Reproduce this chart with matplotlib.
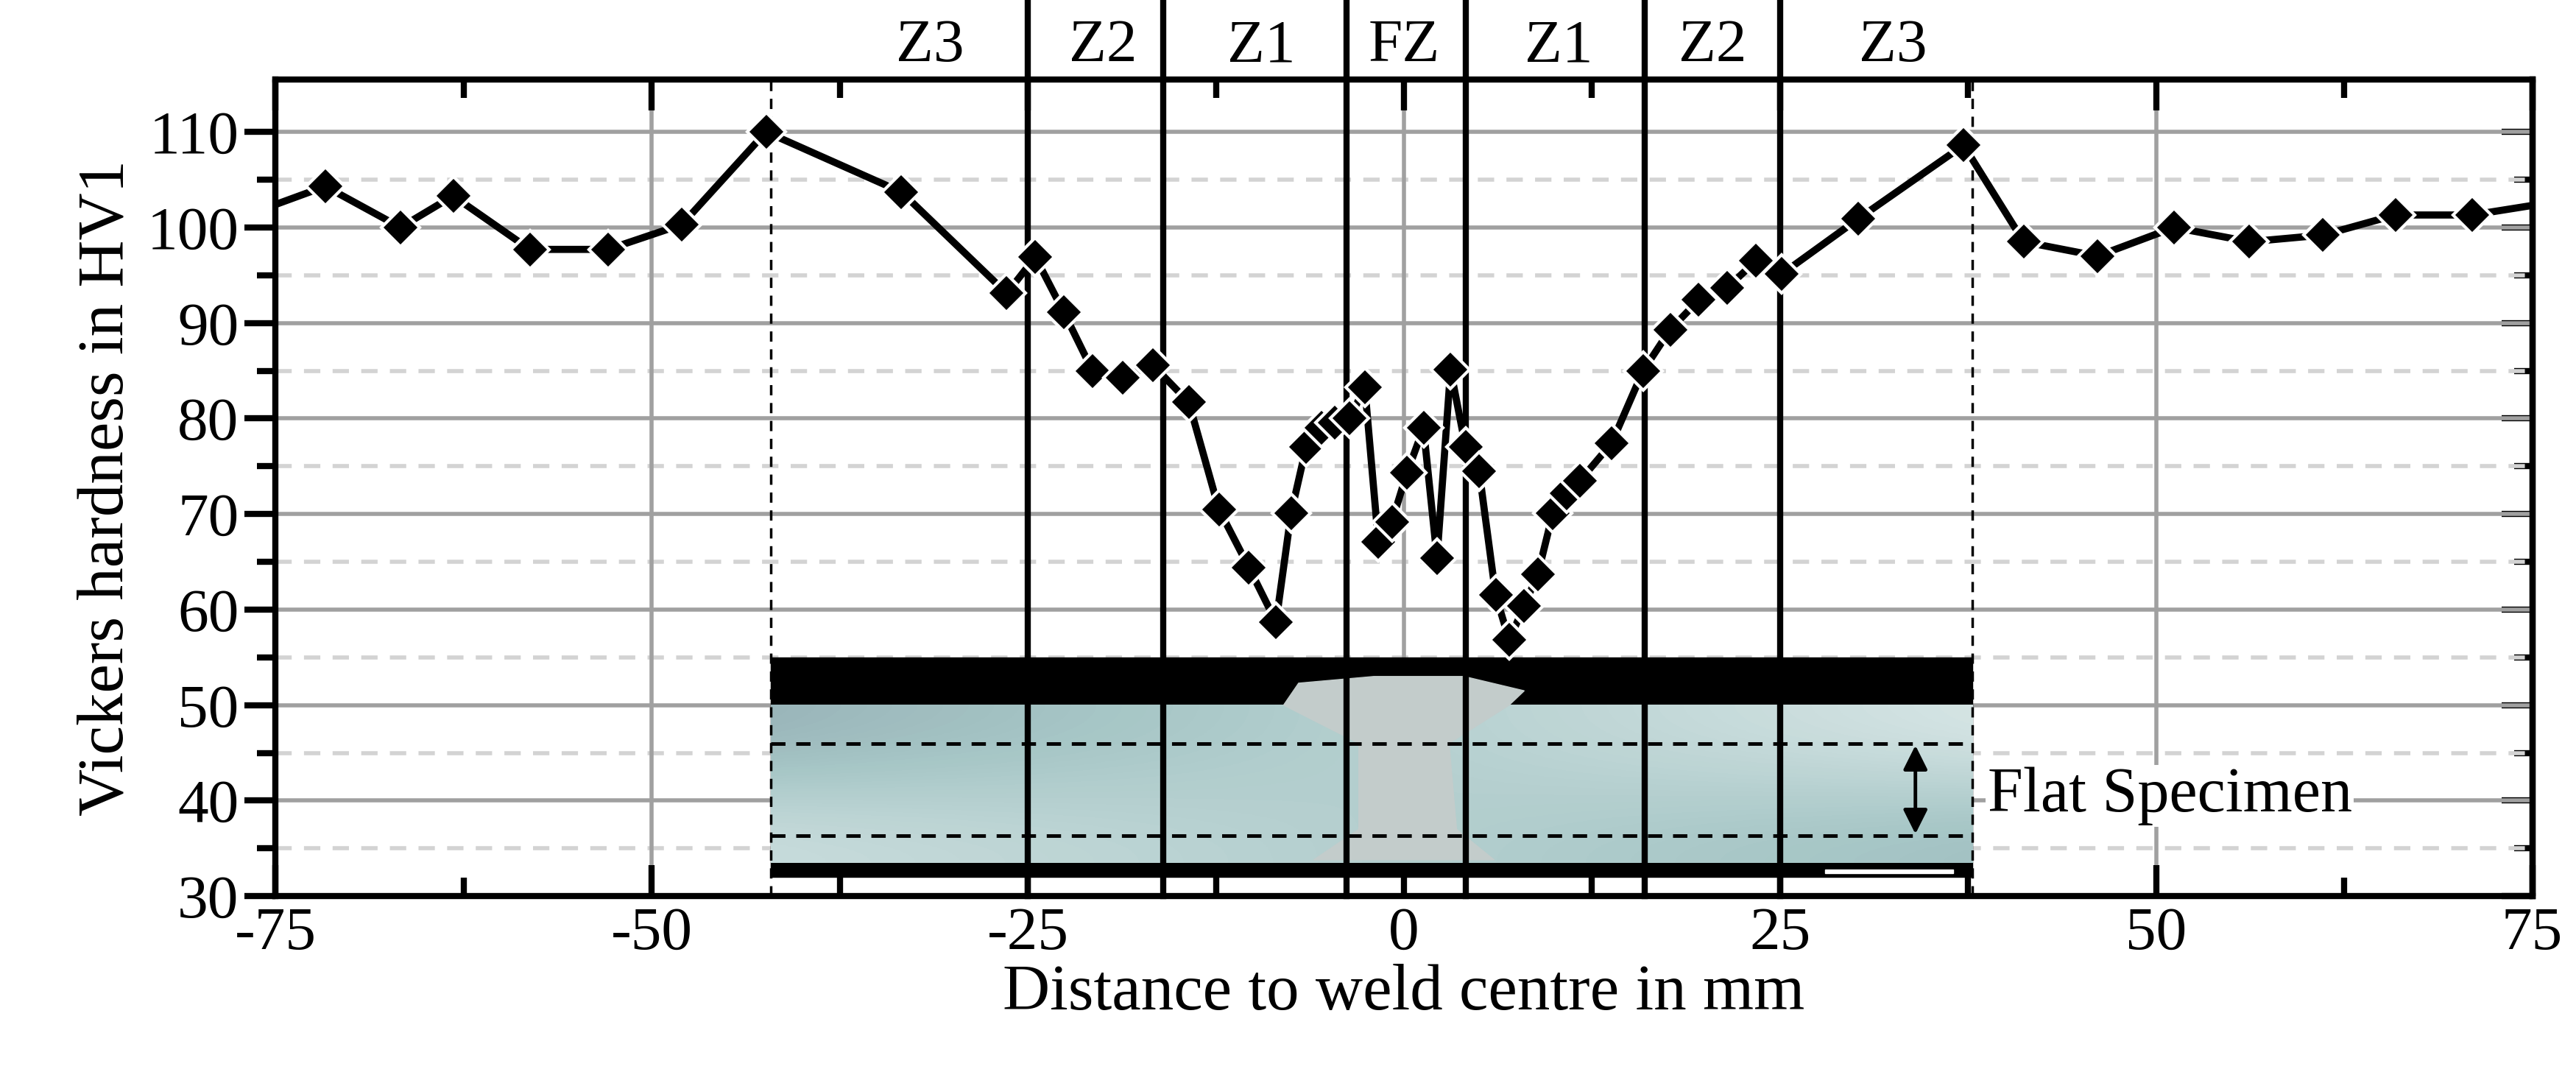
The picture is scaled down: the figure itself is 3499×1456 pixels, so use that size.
import numpy as np
import matplotlib.pyplot as plt
from matplotlib.patches import Rectangle, Polygon

plt.rcParams['font.family'] = ['Liberation Serif', 'DejaVu Serif']

# hardness profile (distance in mm, hardness in HV1); first and last entries are the line ends at the frame
distance = [-75, -71.7, -66.7, -63.2, -58.1, -52.9, -48.0, -42.4, -33.4, -26.4, -24.5, -22.6, -20.7,
            -18.7, -16.7, -14.3, -12.3, -10.3, -8.5, -7.5, -6.5, -5.5, -4.6, -3.6, -2.6, -1.7, -0.8,
            0.2, 1.3, 2.2, 3.1, 4.1, 5.0, 6.1, 7.0, 8.0, 8.9, 9.9, 10.8, 11.7, 13.8, 15.9, 17.7,
            19.6, 21.5, 23.4, 25.1, 30.2, 37.2, 41.2, 46.1, 51.2, 56.2, 61.1, 65.9, 71.0, 75]
hardness = [102.4, 104.3, 100.0, 103.3, 97.7, 97.7, 100.3, 110.0, 103.7, 93.1, 96.9, 91.1, 85.0,
            84.3, 85.6, 81.7, 70.5, 64.4, 58.7, 70.1, 77.0, 79.0, 79.6, 80.0, 83.3, 67.1, 69.2,
            74.3, 79.0, 65.4, 85.1, 77.0, 74.5, 61.5, 56.8, 60.4, 63.7, 70.1, 72.2, 73.5, 77.4, 85.0, 89.3,
            92.4, 93.7, 96.5, 95.1, 100.9, 108.6, 98.5, 97.0, 100.0, 98.5, 99.2, 101.3, 101.3, 102.3]

zone_bounds = [-25, -16, -3.8, 4.1, 16, 25]
specimen_edges = [-42.1, 37.8]
zone_labels = ['Z3', 'Z2', 'Z1', 'FZ', 'Z1', 'Z2', 'Z3']
zone_label_x = [-31.5, -20, -9.5, 0, 10.3, 20.5, 32.5]

fig = plt.figure(figsize=(34.99, 14.56), dpi=100)
ax = fig.add_axes([0.107, 0.164, 0.876, 0.762])
ax.set_xlim(-75, 75)
ax.set_ylim(30, 115.5)

# grid
for y in range(30, 111, 10):
    ax.axhline(y, color='#a0a0a0', lw=4, zorder=1)
for y in range(35, 110, 10):
    ax.axhline(y, color='#d3d3d3', lw=4, ls=(0, (4, 3)), zorder=1)
for x in [-50, 0, 50]:
    ax.axvline(x, color='#a0a0a0', lw=4, zorder=1)

# specimen picture stand-in
x0, x1 = specimen_edges
ax.add_patch(Rectangle((x0, 32), x1 - x0, 23, color='black', zorder=2))
grad = np.linspace(0.0, 1.0, 200).reshape(1, -1)
ax.imshow(np.vstack([grad, grad[:, ::-1] * 0.6 + 0.2]), cmap='bone', vmin=-3.5, vmax=1.6,
          aspect='auto', extent=(x0, x1, 33.5, 50), zorder=2, interpolation='bicubic')
ax.add_patch(Polygon([(-8, 50), (-7, 52.3), (-2, 53), (4, 53), (8, 51.5), (7, 50),
                      (3, 46), (3.5, 37), (6, 33.8), (-6, 33.8), (-3, 37), (-3, 46)],
                     color='#c3cccb', zorder=3))
for y in [46, 36.3]:
    ax.plot([x0, x1], [y, y], color='black', lw=3.5, ls=(0, (4, 3)), zorder=4)
ax.annotate('', xy=(34, 46), xytext=(34, 36.3),
            arrowprops=dict(arrowstyle='<|-|>', color='black', lw=3.5, mutation_scale=50), zorder=4)
ax.add_patch(Rectangle((28, 32.4), 8.5, 0.4, color='white', zorder=4))
ax.text(38.8, 40.5, 'Flat Specimen', fontsize=62, va='center', ha='left', zorder=5,
        bbox=dict(facecolor='white', edgecolor='none', pad=2))

# zone lines
for x in zone_bounds:
    ax.axvline(x, ymin=0, ymax=1.1, color='black', lw=6, clip_on=False, zorder=6)
for x in specimen_edges:
    ax.axvline(x, color='black', lw=2.5, ls=(0, (4, 3)), zorder=6)
for x, lab in zip(zone_label_x, zone_labels):
    ax.text(x, 116, lab, fontsize=60, ha='center', va='bottom')

# profile
ax.plot(distance, hardness, color='black', lw=7, marker='D', ms=26, mec='white', mew=3,
        markevery=list(range(1, len(distance) - 1)), solid_capstyle='butt', zorder=7, clip_on=False)

for s in ax.spines.values():
    s.set_linewidth(6)
    s.set_zorder(8)
ax.set_xticks([-75, -50, -25, 0, 25, 50, 75])
ax.set_xticklabels(['-75', '-50', '-25', '0', '25', '50', '75'])
ax.set_xticks(np.arange(-62.5, 75, 25), minor=True)
ax.set_yticks(range(30, 111, 10))
ax.set_yticks(range(35, 111, 10), minor=True)
ax.tick_params(axis='both', which='major', labelsize=60, width=6, length=30)
ax.tick_params(axis='both', which='minor', width=6, length=18)
ax.tick_params(axis='x', which='both', direction='in', top=True, pad=10)
ax.tick_params(axis='y', which='both', direction='out', right=False, pad=6)
axr = ax.secondary_yaxis('right')
axr.set_yticks(range(30, 111, 10))
axr.set_yticks(range(35, 111, 10), minor=True)
axr.tick_params(which='major', direction='in', width=6, length=30, color='black', labelright=False)
axr.tick_params(which='minor', direction='in', width=6, length=18, color='black')
axr.spines['right'].set_linewidth(6)

ax.set_xlabel('Distance to weld centre in mm', fontsize=64, labelpad=2)
ax.set_ylabel('Vickers hardness in HV1', fontsize=64, labelpad=10)

fig.savefig('out.png', dpi=100)
